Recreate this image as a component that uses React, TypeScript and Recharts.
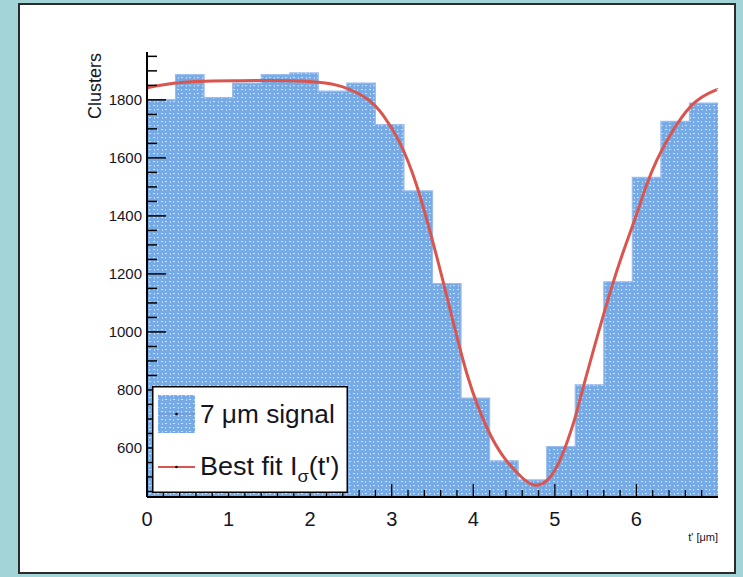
import React from "react";
import {
  ComposedChart,
  Area,
  Line,
  XAxis,
  YAxis,
} from "recharts";

// histogram: 20 bins of 0.35 um from 0 to 7
const BIN_WIDTH = 0.35;
const binStart = [
  0, 0.35, 0.7, 1.05, 1.4, 1.75, 2.1, 2.45, 2.8, 3.15,
  3.5, 3.85, 4.2, 4.55, 4.9, 5.25, 5.6, 5.95, 6.3, 6.65,
];
const counts = [
  1801, 1887, 1808, 1858, 1887, 1893, 1830, 1858, 1715, 1486,
  1167, 772, 556, 490, 605, 818, 1173, 1533, 1726, 1789,
];

// fit curve
const fitT = [
  0, 0.35, 0.7, 1.05, 1.4, 1.75, 2.1, 2.4, 2.7, 2.9, 3.1, 3.3, 3.5, 3.7,
  3.93, 4.17, 4.38, 4.59, 4.75, 4.91, 5.08, 5.24, 5.34, 5.7, 5.95, 6.12,
  6.25, 6.4, 6.68, 6.95, 7.0,
];
const fitValue = [
  1842, 1858, 1864, 1866, 1867, 1866, 1861, 1845, 1803, 1745, 1652, 1510,
  1315, 1095, 848, 668, 566, 500, 472, 490, 569, 697, 801, 1157, 1364, 1503,
  1592, 1672, 1782, 1831, 1836,
];

const xMajorLabels = ["0", "1", "2", "3", "4", "5", "6"];
const yMajorLabels = ["600", "800", "1000", "1200", "1400", "1600", "1800"];

const X_DOMAIN: [number, number] = [0, 7];
const Y_DOMAIN: [number, number] = [431, 1965];

const histData = binStart
  .map((t, i) => ({ t, count: counts[i] }))
  .concat({
    t: binStart[binStart.length - 1] + BIN_WIDTH,
    count: counts[counts.length - 1],
  });
const fitData = fitT.map((t, i) => ({ t, fit: fitValue[i] }));

const xTicks: number[] = [];
for (let i = 0; i <= 34; i++) xTicks.push(Math.round(i * 0.2 * 100) / 100);
const yTicks: number[] = [];
for (let v = 450; v <= 1950; v += 50) yTicks.push(v);

const PLOT_LEFT = 147;
const PLOT_BOTTOM = 497;
const FONT = "'Liberation Sans', Arial, sans-serif";
const TEXT = "#15151f";
const BLUE_STROKE = "#9bbcec";
const RED = "#d9554d";

const XTick = (props: any) => {
  const { x, payload } = props;
  const v = payload.value as number;
  const major = Math.abs(v - Math.round(v)) < 1e-6;
  const len = major ? 13 : 7;
  const label = xMajorLabels.find((l) => Number(l) === v);
  return (
    <g>
      <line x1={x} x2={x} y1={PLOT_BOTTOM} y2={PLOT_BOTTOM - len} stroke="#000" strokeWidth={1.3} />
      {major && label !== undefined && (
        <text x={x} y={PLOT_BOTTOM + 29} textAnchor="middle" fontSize={20} fill={TEXT} fontFamily={FONT}>
          {label}
        </text>
      )}
    </g>
  );
};

const YTick = (props: any) => {
  const { y, payload } = props;
  const v = payload.value as number;
  const label = yMajorLabels.find((l) => Number(l) === v);
  const len = label !== undefined ? 19 : 10;
  return (
    <g>
      <line x1={PLOT_LEFT} x2={PLOT_LEFT + len} y1={y} y2={y} stroke="#000" strokeWidth={1.5} />
      {label !== undefined && (
        <text x={PLOT_LEFT - 5} y={y + 5} textAnchor="end" fontSize={15} fill={TEXT} fontFamily={FONT}>
          {label}
        </text>
      )}
    </g>
  );
};

const HatchDef = ({ id }: { id: string }) => (
  <pattern id={id} width="8" height="8" patternUnits="userSpaceOnUse">
    <rect width="8" height="8" fill="#76aae7" />
    <rect x="1" y="1" width="2" height="1" fill="#d6e6f9" />
    <rect x="5" y="1" width="1" height="2" fill="#bcd5f4" />
    <rect x="2" y="5" width="1" height="2" fill="#bcd5f4" />
    <rect x="5" y="5" width="2" height="1" fill="#d6e6f9" />
  </pattern>
);

const LegendBox = () => (
  <svg
    width={196}
    height={107}
    style={{ position: "absolute", left: 152, top: 386 }}
  >
    <defs>
      <HatchDef id="legendHatch" />
    </defs>
    <rect x={0.75} y={0.75} width={194.5} height={105.5} fill="#fff" stroke="#000" strokeWidth={1.5} />
    <rect x={6} y={9} width={37} height={38} fill="url(#legendHatch)" />
    <line x1={6} x2={43} y1={28} y2={28} stroke="#7a8fd8" strokeWidth={1} />
    <circle cx={24.5} cy={28} r={1.3} fill="#000" />
    <text x={48} y={37} fontSize={25} fill={TEXT} fontFamily={FONT} transform="translate(48 0) scale(1.05 1) translate(-48 0)">
      7 μm signal
    </text>
    <line x1={6} x2={43} y1={81} y2={81} stroke={RED} strokeWidth={2} />
    <circle cx={24.5} cy={81} r={1.3} fill="#000" />
    <text x={48} y={89} fontSize={25} fill={TEXT} fontFamily={FONT} transform="translate(48 0) scale(1.08 1) translate(-48 0)">
      Best fit I
      <tspan dy={7} fontSize={17}>σ</tspan>
      <tspan dy={-7}>(t')</tspan>
    </text>
  </svg>
);

export default function App() {
  return (
    <div
      style={{
        position: "absolute",
        left: 0,
        top: 0,
        width: 743,
        height: 577,
        background: "#a3d5d8",
        fontFamily: FONT,
      }}
    >
      <div
        style={{
          position: "absolute",
          left: 18,
          top: 3,
          width: 718,
          height: 571,
          boxSizing: "border-box",
          background: "#fff",
          border: "2px solid #2b2b2b",
        }}
      />
      <div style={{ position: "absolute", left: 0, top: 0 }}>
        <ComposedChart
          width={743}
          height={577}
          margin={{ top: 52, right: 25, left: 87, bottom: 50 }}
        >
          <defs>
            <HatchDef id="rootHatch" />
          </defs>
          <Area
            data={histData}
            dataKey="count"
            type="stepAfter"
            stroke={BLUE_STROKE}
            strokeWidth={1.2}
            fill="url(#rootHatch)"
            fillOpacity={1}
            dot={false}
            activeDot={false}
            isAnimationActive={false}
          />
          <Line
            data={fitData}
            dataKey="fit"
            type="natural"
            stroke={RED}
            strokeWidth={3}
            dot={false}
            activeDot={false}
            isAnimationActive={false}
          />
          <XAxis
            dataKey="t"
            type="number"
            domain={X_DOMAIN}
            ticks={xTicks}
            interval={0}
            allowDataOverflow
            height={30}
            tickLine={false}
            axisLine={{ stroke: "#000", strokeWidth: 2 }}
            tick={(p: any) => <XTick {...p} />}
          />
          <XAxis
            xAxisId="top"
            orientation="top"
            type="number"
            domain={X_DOMAIN}
            allowDataOverflow
            height={0}
            tick={false}
            tickLine={false}
            axisLine={{ stroke: "#000", strokeWidth: 2 }}
          />
          <YAxis
            type="number"
            domain={Y_DOMAIN}
            ticks={yTicks}
            interval={0}
            allowDataOverflow
            width={60}
            tickLine={false}
            axisLine={{ stroke: "#000", strokeWidth: 2 }}
            tick={(p: any) => <YTick {...p} />}
            label={() => (
              <text
                x={101}
                y={53}
                textAnchor="end"
                transform="rotate(-90 101 53)"
                fontSize={18}
                fill={TEXT}
                fontFamily={FONT}
              >
                Clusters
              </text>
            )}
          />
          <YAxis
            yAxisId="right"
            orientation="right"
            type="number"
            domain={Y_DOMAIN}
            allowDataOverflow
            width={0}
            tick={false}
            tickLine={false}
            axisLine={{ stroke: "#000", strokeWidth: 2 }}
          />
        </ComposedChart>
      </div>
      <div
        style={{
          position: "absolute",
          left: 0,
          top: 531,
          width: 718,
          textAlign: "right",
          fontSize: 11,
          color: TEXT,
        }}
      >
        t' [μm]
      </div>
      <LegendBox />
    </div>
  );
}
